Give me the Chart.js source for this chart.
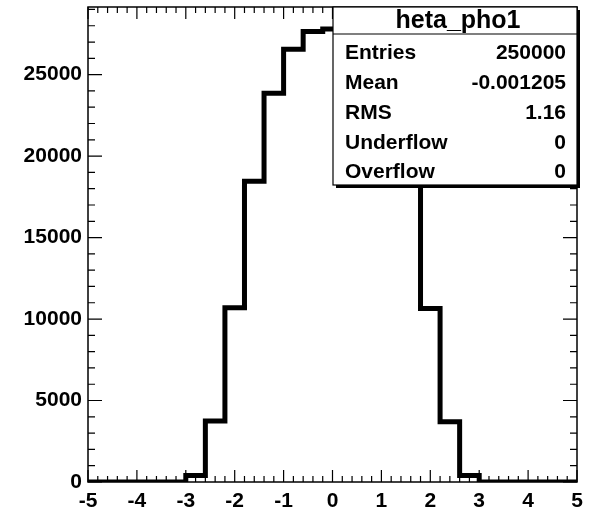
<!DOCTYPE html>
<html>
<head>
<meta charset="utf-8">
<script src="https://cdn.jsdelivr.net/npm/chart.js@4"></script>
<style>
	html, body { margin: 0; padding: 0; background: #fff; }
	canvas { display: block; }
</style>
</head>
<body>
<canvas id="myChart" width="590" height="508"></canvas>
<script>
// bin low edges, width 0.4
var binEdges = [-5, -4.6, -4.2, -3.8, -3.4, -3.0, -2.6, -2.2, -1.8, -1.4, -1.0, -0.6, -0.2,
	0.2, 0.6, 1.0, 1.4, 1.8, 2.2, 2.6, 3.0, 3.4, 3.8, 4.2, 4.6]
var binCounts = [0, 0, 0, 0, 0, 400, 3750, 10700, 18450, 23850, 26550, 27650, 27800,
	27600, 26500, 23800, 18400, 10650, 3700, 400, 0, 0, 0, 0, 0]
var xMax = 5

var xTickValues = [-5, -4, -3, -2, -1, 0, 1, 2, 3, 4, 5]
var yTickValues = [0, 5000, 10000, 15000, 20000, 25000]

var histTitle = 'heta_pho1'
var statLabels = ['Entries', 'Mean', 'RMS', 'Underflow', 'Overflow']
var statValues = ['250000', '-0.001205', '1.16', '0', '0']

var points = binEdges.map((e, i) => ({ x: e, y: binCounts[i] }))
points.push({ x: xMax, y: binCounts[binCounts.length - 1] })

var FONT = '"Liberation Sans", Arial, Helvetica, sans-serif'

// ROOT style frame: box + ticks pointing inward on all four sides
var rootFrame = {
	id: 'rootFrame',
	afterDatasetsDraw (chart) {
		var ctx = chart.ctx
		var a = chart.chartArea
		var xs = chart.scales.x
		var ys = chart.scales.y
		ctx.save()
		ctx.strokeStyle = '#000'
		ctx.lineWidth = 1.5
		ctx.strokeRect(a.left, a.top, a.right - a.left, a.bottom - a.top)
		ctx.lineWidth = 1.2
		ctx.beginPath()
		for (var i = 0; i <= 50; i++) {
			var v = -5 + i * 0.2
			var px = xs.getPixelForValue(v)
			var len = (i % 5 === 0) ? 12 : 6
			ctx.moveTo(px, a.bottom)
			ctx.lineTo(px, a.bottom - len)
			ctx.moveTo(px, a.top)
			ctx.lineTo(px, a.top + len)
		}
		for (var j = 0; j * 1000 <= ys.max; j++) {
			var py = ys.getPixelForValue(j * 1000)
			var l = (j % 5 === 0) ? 14 : 7
			ctx.moveTo(a.left, py)
			ctx.lineTo(a.left + l, py)
			ctx.moveTo(a.right, py)
			ctx.lineTo(a.right - l, py)
		}
		ctx.stroke()
		ctx.restore()
	},
	afterDraw (chart) {
		var ctx = chart.ctx
		var a = chart.chartArea
		var bx = 333
		var by = a.top
		var bw = a.right - bx
		var bh = 178
		ctx.save()
		// shadow
		ctx.fillStyle = '#000'
		ctx.fillRect(bx + 3, by + 3, bw, bh)
		ctx.fillStyle = '#fff'
		ctx.fillRect(bx, by, bw, bh)
		ctx.strokeStyle = '#000'
		ctx.lineWidth = 1.2
		ctx.strokeRect(bx, by, bw, bh)
		ctx.beginPath()
		ctx.moveTo(bx, by + 27)
		ctx.lineTo(bx + bw, by + 27)
		ctx.stroke()

		ctx.fillStyle = '#000'
		ctx.textBaseline = 'middle'
		ctx.font = 'bold 25px ' + FONT
		ctx.textAlign = 'center'
		ctx.fillText(histTitle, bx + bw / 2 + 3, by + 14)
		ctx.font = 'bold 21px ' + FONT
		statLabels.forEach((lab, i) => {
			var ty = by + 46.5 + i * 29.8
			ctx.textAlign = 'left'
			ctx.fillText(lab, bx + 12, ty)
			ctx.textAlign = 'right'
			ctx.fillText(statValues[i], bx + bw - 11, ty)
		})
		ctx.restore()
	}
}

var ctx = document.getElementById('myChart').getContext('2d')
var myChart = new Chart(ctx, {
	type: 'line',
	data: {
		datasets: [{
			label: histTitle,
			data: points,
			stepped: 'before',
			borderColor: '#000',
			borderWidth: 5,
			pointRadius: 0,
			fill: false
		}]
	},
	options: {
		responsive: false,
		animation: false,
		layout: {
			padding: { top: 7, right: 13, left: 0, bottom: 0 }
		},
		plugins: {
			legend: { display: false },
			tooltip: { enabled: false }
		},
		scales: {
			x: {
				type: 'linear',
				min: -5,
				max: 5,
				grid: { display: false, drawTicks: false },
				border: { display: false },
				afterBuildTicks (scale) {
					scale.ticks = xTickValues.map(v => ({ value: v }))
				},
				ticks: {
					autoSkip: false,
					maxRotation: 0,
					padding: 7,
					color: '#000',
					font: { family: FONT, size: 21, weight: 'bold' },
					callback: v => String(v)
				},
				afterFit (scale) {
					scale.height = 26
				}
			},
			y: {
				min: 0,
				max: 29150,
				grid: { display: false, drawTicks: false },
				border: { display: false },
				afterBuildTicks (scale) {
					scale.ticks = yTickValues.map(v => ({ value: v }))
				},
				ticks: {
					padding: 6,
					color: '#000',
					font: { family: FONT, size: 21, weight: 'bold' },
					callback: v => String(v)
				},
				afterFit (scale) {
					scale.width = 88
					scale.paddingTop = 0
					scale.paddingBottom = 0
				}
			}
		}
	},
	plugins: [rootFrame]
})
</script>
</body>
</html>
